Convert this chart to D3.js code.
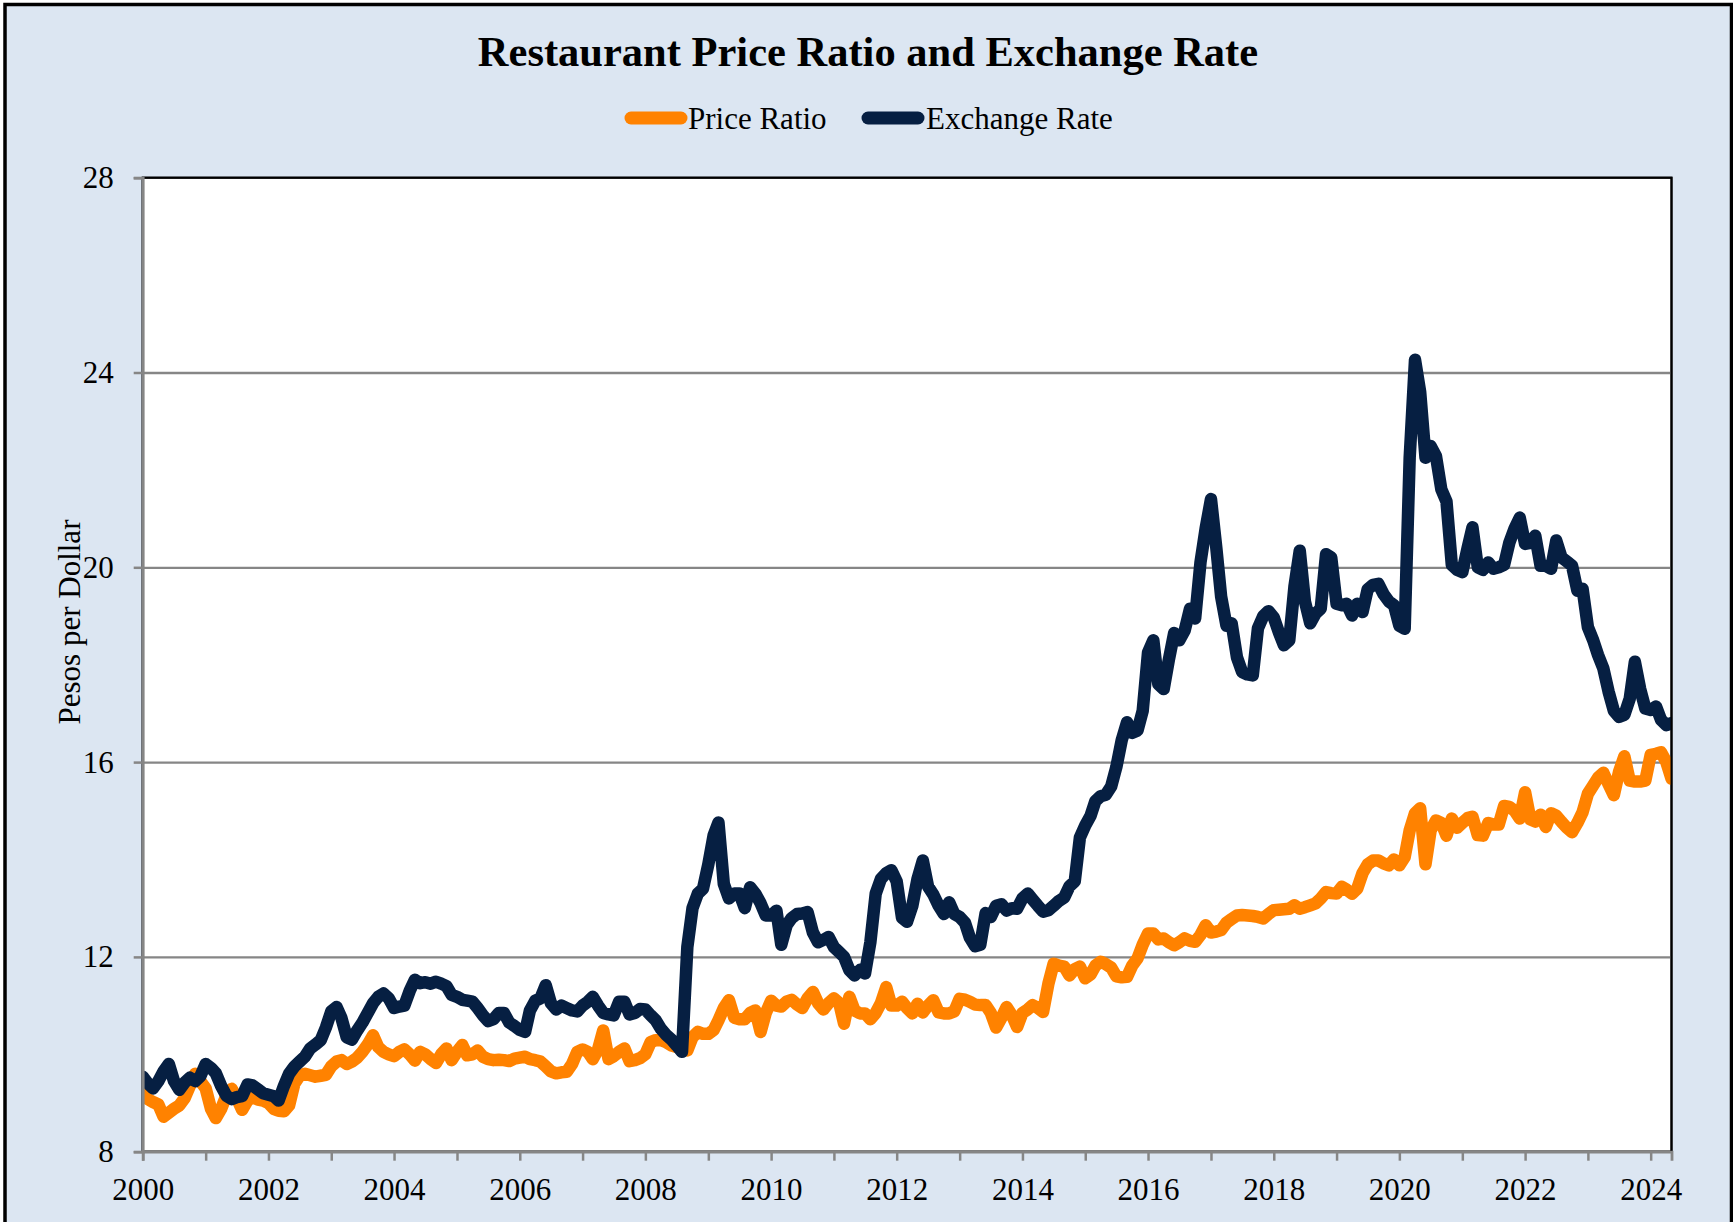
<!DOCTYPE html>
<html>
<head>
<meta charset="utf-8">
<script src="https://cdn.jsdelivr.net/npm/d3@7"></script>
<style>
  html, body { margin: 0; padding: 0; background: #ffffff; }
  svg { display: block; }
  text { font-family: "Liberation Serif", "Times New Roman", serif; fill: #000; }
</style>
</head>
<body>
<div id="chart"></div>
<script>
// ---------------- data (monthly, Jan 2000 .. May 2024) ----------------
const startYear = 2000;
const startMonth = 0; // January

const priceRatio = [
  // 2000
  9.20, 9.08, 9.02, 8.97, 8.72, 8.80, 8.88, 8.95, 9.10, 9.35, 9.60, 9.45,
  // 2001
  9.30, 8.88, 8.69, 8.88, 9.15, 9.29, 9.10, 8.86, 9.05, 9.12, 9.07, 9.05,
  // 2002
  9.00, 8.88, 8.84, 8.83, 8.95, 9.40, 9.56, 9.60, 9.57, 9.54, 9.56, 9.58,
  // 2003
  9.75, 9.85, 9.88, 9.80, 9.85, 9.93, 10.05, 10.20, 10.39, 10.15, 10.05, 10.00,
  // 2004
  9.96, 10.05, 10.10, 10.00, 9.87, 10.05, 10.00, 9.90, 9.82, 10.00, 10.12, 9.88,
  // 2005
  10.05, 10.19, 9.98, 10.00, 10.08, 9.95, 9.90, 9.88, 9.89, 9.88, 9.86, 9.91,
  // 2006
  9.93, 9.95, 9.90, 9.88, 9.85, 9.75, 9.65, 9.61, 9.63, 9.64, 9.80, 10.05,
  // 2007
  10.10, 10.05, 9.90, 10.10, 10.49, 9.90, 9.96, 10.05, 10.12, 9.86, 9.88, 9.92,
  // 2008
  10.00, 10.25, 10.29, 10.29, 10.25, 10.18, 10.15, 10.12, 10.08, 10.35, 10.46, 10.42,
  // 2009
  10.42, 10.50, 10.70, 10.95, 11.11, 10.75, 10.72, 10.72, 10.85, 10.90, 10.46, 10.85,
  // 2010
  11.10, 11.00, 10.98, 11.08, 11.12, 11.02, 10.95, 11.15, 11.28, 11.05, 10.92, 11.05,
  // 2011
  11.15, 11.05, 10.63, 11.18, 10.90, 10.84, 10.84, 10.72, 10.85, 11.05, 11.38, 11.00,
  // 2012
  11.00, 11.08, 10.95, 10.84, 11.04, 10.86, 11.00, 11.11, 10.86, 10.84, 10.84, 10.88,
  // 2013
  11.14, 11.12, 11.08, 11.02, 11.01, 11.01, 10.85, 10.55, 10.75, 10.97, 10.80, 10.56,
  // 2014
  10.85, 10.92, 11.01, 10.95, 10.87, 11.45, 11.86, 11.82, 11.80, 11.62, 11.75, 11.80,
  // 2015
  11.56, 11.64, 11.82, 11.90, 11.85, 11.78, 11.60, 11.58, 11.59, 11.82, 11.97, 12.25,
  // 2016
  12.48, 12.48, 12.36, 12.38, 12.30, 12.24, 12.30, 12.38, 12.33, 12.31, 12.45, 12.65,
  // 2017
  12.50, 12.52, 12.55, 12.70, 12.78, 12.85, 12.86, 12.85, 12.84, 12.82, 12.79, 12.88,
  // 2018
  12.96, 12.97, 12.98, 12.99, 13.06, 12.99, 13.02, 13.06, 13.10, 13.20, 13.33, 13.31,
  // 2019
  13.30, 13.44, 13.38, 13.30, 13.40, 13.72, 13.90, 13.98, 13.98, 13.92, 13.88, 14.00,
  // 2020
  13.88, 14.05, 14.60, 14.95, 15.05, 13.90, 14.60, 14.80, 14.75, 14.49, 14.84, 14.65,
  // 2021
  14.75, 14.85, 14.88, 14.50, 14.49, 14.75, 14.72, 14.72, 15.10, 15.08, 15.00, 14.84,
  // 2022
  15.38, 14.82, 14.78, 14.92, 14.67, 14.95, 14.90, 14.77, 14.65, 14.56, 14.75, 14.97,
  // 2023
  15.35, 15.52, 15.68, 15.78, 15.55, 15.32, 15.80, 16.12, 15.62, 15.60, 15.60, 15.62,
  // 2024
  16.15, 16.17, 16.20, 16.00, 15.66
];

const exchangeRate = [
  // 2000
  9.54, 9.40, 9.30, 9.45, 9.65, 9.80, 9.45, 9.27, 9.42, 9.52, 9.45, 9.55,
  // 2001
  9.80, 9.72, 9.61, 9.35, 9.15, 9.08, 9.12, 9.14, 9.38, 9.36, 9.28, 9.20,
  // 2002
  9.17, 9.14, 9.05, 9.35, 9.60, 9.75, 9.85, 9.95, 10.12, 10.20, 10.29, 10.55,
  // 2003
  10.88, 10.97, 10.75, 10.35, 10.30, 10.49, 10.65, 10.85, 11.05, 11.18, 11.25, 11.15,
  // 2004
  10.95, 10.98, 11.00, 11.30, 11.53, 11.46, 11.48, 11.45, 11.49, 11.45, 11.40, 11.22,
  // 2005
  11.18, 11.12, 11.10, 11.08, 10.95, 10.80, 10.68, 10.72, 10.85, 10.85, 10.65, 10.58,
  // 2006
  10.50, 10.46, 10.90, 11.10, 11.15, 11.42, 11.05, 10.92, 11.00, 10.95, 10.90, 10.88,
  // 2007
  11.00, 11.08, 11.18, 11.00, 10.85, 10.82, 10.80, 11.08, 11.08, 10.82, 10.85, 10.93,
  // 2008
  10.92, 10.80, 10.70, 10.52, 10.40, 10.30, 10.18, 10.05, 12.20, 13.00, 13.30, 13.40,
  // 2009
  13.90, 14.50, 14.76, 13.50, 13.20, 13.30, 13.30, 13.00, 13.43, 13.30, 13.10, 12.85,
  // 2010
  12.85, 12.95, 12.25, 12.65, 12.80, 12.88, 12.89, 12.92, 12.50, 12.30, 12.35, 12.41,
  // 2011
  12.20, 12.10, 12.00, 11.73, 11.62, 11.73, 11.66, 12.30, 13.30, 13.60, 13.72, 13.78,
  // 2012
  13.55, 12.80, 12.72, 13.05, 13.60, 13.98, 13.45, 13.28, 13.05, 12.88, 13.12, 12.88,
  // 2013
  12.82, 12.70, 12.40, 12.22, 12.25, 12.90, 12.82, 13.05, 13.08, 12.95, 13.00, 12.99,
  // 2014
  13.20, 13.30, 13.18, 13.05, 12.93, 12.96, 13.05, 13.15, 13.22, 13.45, 13.55, 14.45,
  // 2015
  14.70, 14.90, 15.20, 15.30, 15.33, 15.50, 15.90, 16.45, 16.82, 16.60, 16.65, 17.05,
  // 2016
  18.25, 18.50, 17.60, 17.50, 18.10, 18.65, 18.50, 18.70, 19.15, 18.95, 20.10, 20.80,
  // 2017
  21.40, 20.40, 19.40, 18.80, 18.85, 18.15, 17.85, 17.80, 17.78, 18.75, 19.00, 19.10,
  // 2018
  18.97, 18.65, 18.40, 18.50, 19.60, 20.34, 19.30, 18.85, 19.05, 19.15, 20.27, 20.20,
  // 2019
  19.25, 19.22, 19.25, 19.01, 19.25, 19.08, 19.55, 19.64, 19.66, 19.45, 19.30, 19.22,
  // 2020
  18.80, 18.74, 22.25, 24.26, 23.60, 22.25, 22.49, 22.28, 21.60, 21.35, 20.05, 19.95,
  // 2021
  19.90, 20.40, 20.82, 20.00, 19.95, 20.10, 19.97, 20.00, 20.05, 20.50, 20.80, 21.02,
  // 2022
  20.48, 20.50, 20.65, 20.03, 20.03, 19.97, 20.55, 20.20, 20.12, 20.03, 19.52, 19.56,
  // 2023
  18.77, 18.50, 18.20, 17.92, 17.45, 17.05, 16.93, 16.97, 17.30, 18.06, 17.50, 17.10,
  // 2024
  17.07, 17.14, 16.87, 16.76, 16.80
];

const yTicks = [8, 12, 16, 20, 24, 28];
const xLabelYears = [2000, 2002, 2004, 2006, 2008, 2010, 2012, 2014, 2016, 2018, 2020, 2022, 2024];
const seriesNames = ["Price Ratio", "Exchange Rate"];
const seriesColors = ["#FF8200", "#061F42"];
const titleText = "Restaurant Price Ratio and Exchange Rate";
const yAxisTitle = "Pesos per Dollar";

// ---------------- layout ----------------
const W = 1733, H = 1222;
const plot = { left: 142.7, right: 1671.5, top: 177.7, bottom: 1151.7 };
const bg = "#DCE6F2";
const gray = "#868686";

const dates = priceRatio.map((_, i) => d3.utcMonth.offset(new Date(Date.UTC(startYear, startMonth, 1)), i));

const svg = d3.select("#chart").append("svg")
  .attr("width", W).attr("height", H);

// outer frame
svg.append("rect")
  .attr("x", 5).attr("y", 4.5)
  .attr("width", 1726.5).attr("height", 1230)
  .attr("fill", bg).attr("stroke", "#000").attr("stroke-width", 3.5);

const x = d3.scaleUtc()
  .domain([dates[0], dates[dates.length - 1]])
  .range([plot.left, plot.right]);

const y = d3.scaleLinear()
  .domain([8, 28])
  .range([plot.bottom, plot.top]);

// plot area
svg.append("rect")
  .attr("x", plot.left).attr("y", plot.top)
  .attr("width", plot.right - plot.left).attr("height", plot.bottom - plot.top)
  .attr("fill", "#fff").attr("stroke", "#000").attr("stroke-width", 2);

// gridlines
const grid = svg.append("g")
  .attr("transform", `translate(${plot.left},0)`)
  .call(d3.axisLeft(y).tickValues(yTicks.filter(v => v > 8 && v < 28))
    .tickSize(-(plot.right - plot.left)).tickFormat(""));
grid.select(".domain").remove();
grid.selectAll("line").attr("stroke", gray).attr("stroke-width", 2.3);

// clip so thick lines stay inside the plot
svg.append("clipPath").attr("id", "plotClip")
  .append("rect")
  .attr("x", plot.left).attr("y", plot.top)
  .attr("width", plot.right - plot.left).attr("height", plot.bottom - plot.top);

// series
const line = d3.line()
  .x((d, i) => x(dates[i]))
  .y(d => y(d));

const seriesG = svg.append("g").attr("clip-path", "url(#plotClip)");
[priceRatio, exchangeRate].forEach((vals, k) => {
  seriesG.append("path")
    .datum(vals)
    .attr("d", line)
    .attr("fill", "none")
    .attr("stroke", seriesColors[k])
    .attr("stroke-width", 12.5)
    .attr("stroke-linejoin", "round")
    .attr("stroke-linecap", "round");
});

// plot border (top/right) on top of lines
svg.append("rect")
  .attr("x", plot.left).attr("y", plot.top)
  .attr("width", plot.right - plot.left).attr("height", plot.bottom - plot.top)
  .attr("fill", "none").attr("stroke", "#000").attr("stroke-width", 2);

// y axis
const yAxis = svg.append("g")
  .attr("transform", `translate(${plot.left},0)`)
  .call(d3.axisLeft(y).tickValues(yTicks).tickSize(9).tickPadding(20).tickFormat(d3.format("d")));
yAxis.select(".domain").attr("stroke", gray).attr("stroke-width", 2.8);
yAxis.selectAll(".tick line").attr("stroke", gray).attr("stroke-width", 2.5);
yAxis.selectAll("text")
  .attr("font-family", '"Liberation Serif", "Times New Roman", serif')
  .attr("font-size", 31).attr("fill", "#000");

// x axis
const xAxis = svg.append("g")
  .attr("transform", `translate(0,${plot.bottom})`)
  .call(d3.axisBottom(x)
    .ticks(d3.utcYear.every(1))
    .tickSize(9).tickPadding(17)
    .tickFormat(d => xLabelYears.includes(d.getUTCFullYear()) ? String(d.getUTCFullYear()) : ""));
xAxis.select(".domain").attr("stroke", gray).attr("stroke-width", 2.8);
xAxis.selectAll(".tick line").attr("stroke", gray).attr("stroke-width", 2.5);
xAxis.selectAll("text")
  .attr("font-family", '"Liberation Serif", "Times New Roman", serif')
  .attr("font-size", 31).attr("fill", "#000");

// title
svg.append("text")
  .attr("x", 868).attr("y", 66)
  .attr("text-anchor", "middle")
  .attr("font-size", 42.5).attr("font-weight", "bold")
  .text(titleText);

// legend
const legendItems = [
  { lx1: 631, lx2: 681, tx: 688 },
  { lx1: 868, lx2: 918, tx: 926 }
];
legendItems.forEach((it, k) => {
  svg.append("line")
    .attr("x1", it.lx1).attr("x2", it.lx2)
    .attr("y1", 118).attr("y2", 118)
    .attr("stroke", seriesColors[k]).attr("stroke-width", 13)
    .attr("stroke-linecap", "round");
  svg.append("text")
    .attr("x", it.tx).attr("y", 128.5)
    .attr("font-size", 31)
    .text(seriesNames[k]);
});

// y axis title
svg.append("text")
  .attr("transform", "translate(80,622) rotate(-90)")
  .attr("text-anchor", "middle")
  .attr("font-size", 31)
  .text(yAxisTitle);
</script>
</body>
</html>
